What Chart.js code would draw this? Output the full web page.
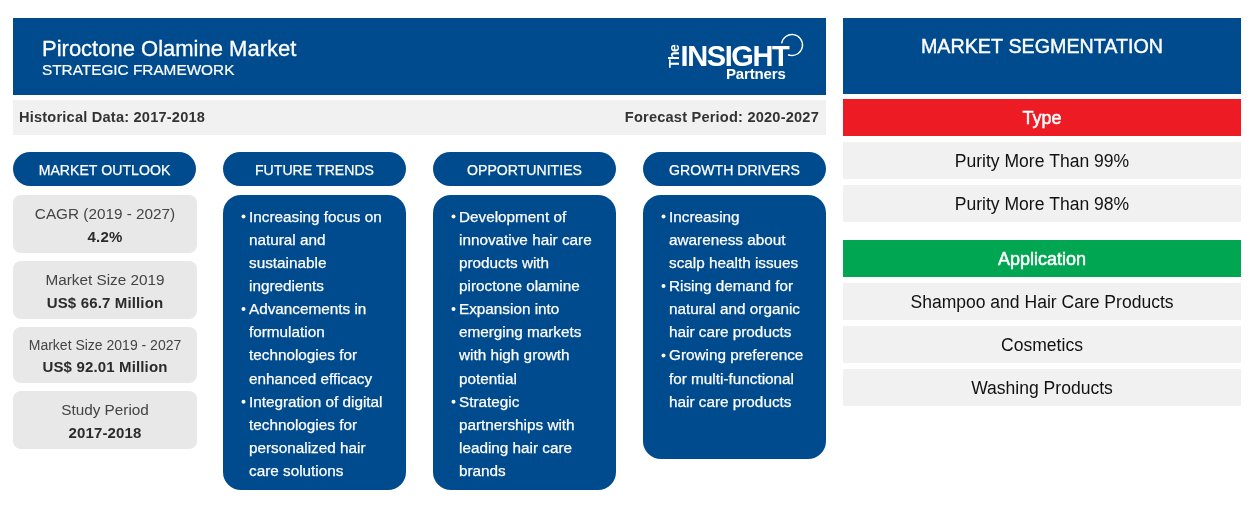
<!DOCTYPE html>
<html>
<head>
<meta charset="utf-8">
<title>Piroctone Olamine Market</title>
<script src="https://cdn.jsdelivr.net/npm/chart.js@4"></script>
<style>
html, body { margin: 0; padding: 0; background: #fff; }
canvas { display: block; }
</style>
</head>
<body>
<canvas id="framework" width="1254" height="530"></canvas>
<script>
const title = 'Piroctone Olamine Market';
const subtitle = 'STRATEGIC FRAMEWORK';
const historical = 'Historical Data: 2017-2018';
const forecast = 'Forecast Period: 2020-2027';

const columnHeads = ['MARKET OUTLOOK', 'FUTURE TRENDS', 'OPPORTUNITIES', 'GROWTH DRIVERS'];

const outlookLabels = ['CAGR (2019 - 2027)', 'Market Size 2019', 'Market Size 2019 - 2027', 'Study Period'];
const outlookValues = ['4.2%', 'US$ 66.7 Million', 'US$ 92.01 Million', '2017-2018'];

const trends = [
    ['Increasing focus on', 'natural and', 'sustainable', 'ingredients'],
    ['Advancements in', 'formulation', 'technologies for', 'enhanced efficacy'],
    ['Integration of digital', 'technologies for', 'personalized hair', 'care solutions']
];
const opportunities = [
    ['Development of', 'innovative hair care', 'products with', 'piroctone olamine'],
    ['Expansion into', 'emerging markets', 'with high growth', 'potential'],
    ['Strategic', 'partnerships with', 'leading hair care', 'brands']
];
const drivers = [
    ['Increasing', 'awareness about', 'scalp health issues'],
    ['Rising demand for', 'natural and organic', 'hair care products'],
    ['Growing preference', 'for multi-functional', 'hair care products']
];

const segmentTitle = 'MARKET SEGMENTATION';
const typeHead = 'Type';
const typeItems = ['Purity More Than 99%', 'Purity More Than 98%'];
const applicationHead = 'Application';
const applicationItems = ['Shampoo and Hair Care Products', 'Cosmetics', 'Washing Products'];

const BLUE = '#004b8d';
const FONT = '"Liberation Sans", Arial, sans-serif';

function box(ctx, x, y, w, h, r, color) {
    ctx.fillStyle = color;
    ctx.beginPath();
    ctx.roundRect(x, y, w, h, r);
    ctx.fill();
}

function text(ctx, str, x, y, font, color, align, spacing, weight) {
    ctx.font = font + ' ' + FONT;
    ctx.fillStyle = color;
    ctx.textAlign = align || 'left';
    ctx.textBaseline = 'alphabetic';
    ctx.letterSpacing = spacing || '0px';
    ctx.fillText(str, x, y);
    // the reference text is a bit heavier than plain canvas text
    if (weight) {
        ctx.strokeStyle = color;
        ctx.lineWidth = weight;
        ctx.strokeText(str, x, y);
    }
    ctx.letterSpacing = '0px';
}

function bulletPanel(ctx, x, h, groups) {
    box(ctx, x, 195, 183, h, 18, BLUE);
    let y = 221.5;
    groups.forEach(lines => {
        ctx.fillStyle = '#fff';
        ctx.beginPath();
        ctx.arc(x + 20.5, y - 5, 2, 0, Math.PI * 2);
        ctx.fill();
        lines.forEach(line => {
            text(ctx, line, x + 26, y, '15.3px', '#fff', 'left', '0px', 0.25);
            y += 23.15;
        });
    });
}

function logo(ctx) {
    ctx.save();
    ctx.translate(678.5, 68);
    ctx.rotate(-Math.PI / 2);
    text(ctx, 'The', 0, 0, 'bold 14px', '#fff', 'left', '-0.5px');
    ctx.restore();
    text(ctx, 'INSIGHT', 680.5, 66, 'bold 29px', '#fff', 'left', '-1.4px');
    text(ctx, 'Partners', 726, 79, 'bold 15px', '#fff', 'left', '-0.15px');
    ctx.strokeStyle = '#fff';
    ctx.lineWidth = 1.4;
    ctx.beginPath();
    ctx.arc(792, 45, 10.5, -Math.PI * 0.95, Math.PI * 0.62);
    ctx.stroke();
}

const frameworkPlugin = {
    id: 'framework',
    beforeDraw(chart) {
        const ctx = chart.ctx;
        ctx.save();

        // header
        box(ctx, 13, 18, 813, 77, 0, BLUE);
        text(ctx, title, 42, 56, '22px', '#fff', 'left', '0px', 0.3);
        text(ctx, subtitle, 42, 75, '15.35px', '#fff', 'left', '0px', 0.2);
        logo(ctx);

        box(ctx, 13, 100, 813, 35, 0, '#f1f1f1');
        text(ctx, historical, 19, 122, 'bold 14.6px', '#333', 'left', '0.2px');
        text(ctx, forecast, 819, 122, 'bold 14.6px', '#333', 'right', '0.2px');

        // column heads
        [13, 223, 433, 643].forEach((x, i) => {
            box(ctx, x, 152, 183, 34, 17, BLUE);
            text(ctx, columnHeads[i], x + 91.5, 174.5, '14.1px', '#fff', 'center', '0px', 0.25);
        });

        // outlook cards
        const cardY = [195, 261, 327, 391];
        const cardH = [58, 58, 56, 58];
        const labelSize = ['15.3px', '15.3px', '14px', '15.3px'];
        cardY.forEach((y, i) => {
            box(ctx, 13, y, 184, cardH[i], 8, '#e8e8e8');
            const top = i === 2 ? y + 22.5 : y + 24;
            text(ctx, outlookLabels[i], 105, top, labelSize[i], '#444', 'center');
            text(ctx, outlookValues[i], 105, top + 22.7, 'bold 15px', '#2b2b2b', 'center', '0.15px');
        });

        // bullet panels
        bulletPanel(ctx, 223, 295, trends);
        bulletPanel(ctx, 433, 295, opportunities);
        bulletPanel(ctx, 643, 264, drivers);

        // segmentation
        box(ctx, 843, 18, 398, 76, 0, BLUE);
        text(ctx, segmentTitle, 1042, 53, '19.7px', '#fff', 'center', '0px', 0.4);

        box(ctx, 843, 99, 398, 37, 0, '#ed1c24');
        text(ctx, typeHead, 1042, 124, '18px', '#fff', 'center', '0px', 0.5);
        typeItems.forEach((item, i) => {
            box(ctx, 843, 142 + i * 43, 398, 37, 0, '#f1f1f1');
            text(ctx, item, 1042, 166.5 + i * 43, '17.55px', '#111', 'center');
        });

        box(ctx, 843, 240, 398, 37, 0, '#00a651');
        text(ctx, applicationHead, 1042, 265, '18px', '#fff', 'center', '0px', 0.5);
        applicationItems.forEach((item, i) => {
            box(ctx, 843, 283 + i * 43, 398, 37, 0, '#f1f1f1');
            text(ctx, item, 1042, 307.5 + i * 43, '17.55px', '#111', 'center');
        });

        ctx.restore();
    }
};

new Chart(document.getElementById('framework'), {
    type: 'bar',
    data: { labels: [], datasets: [] },
    options: {
        responsive: false,
        animation: false,
        devicePixelRatio: 1,
        plugins: { legend: { display: false }, tooltip: { enabled: false } },
        scales: { x: { display: false }, y: { display: false } }
    },
    plugins: [frameworkPlugin]
});
</script>
</body>
</html>
